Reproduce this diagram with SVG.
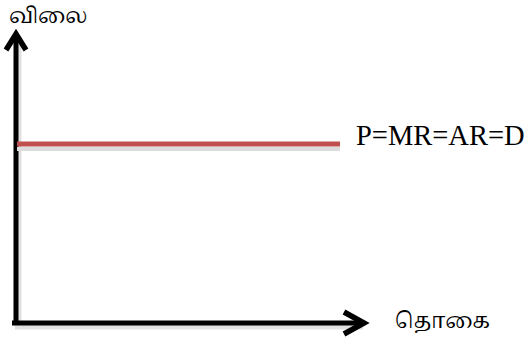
<svg xmlns="http://www.w3.org/2000/svg" width="529" height="342" viewBox="0 0 529 342">
  <style>
    .axis { stroke: #000; stroke-width: 5; fill: none; stroke-linecap: butt; }
    .head { stroke: #000; stroke-width: 5.5; fill: none; stroke-linejoin: miter; stroke-linecap: butt; }
    .shadow { stroke: #000; stroke-opacity: 0.12; fill: none; }
    .tamil { font-family: "Noto Serif Tamil", "Noto Sans Tamil", "Latha", "Lohit Tamil", serif; font-size: 21px; fill: #000; }
    .latin { font-family: "Liberation Serif", "Times New Roman", serif; font-size: 28.5px; fill: #000; }
  </style>
  <rect width="529" height="342" fill="#fff"/>

  <g id="connectors">
    <!-- soft shadows under the axes -->
    <path class="shadow" stroke-width="5" d="M19 36 V325 M15 327 H363"/>
    <!-- price axis -->
    <path class="axis" d="M16 324 V34"/>
    <path class="head" d="M6 50 L16 34 L26 50"/>
    <!-- quantity axis -->
    <path class="axis" d="M12 323 H363"/>
    <path class="head" d="M344 312 L364 323 L344 334"/>
  </g>

  <g id="demand-line">
    <line x1="17" y1="149" x2="340" y2="149" stroke="#dcdcdc" stroke-width="4"/>
    <line x1="17" y1="144" x2="340" y2="144" stroke="#c0504d" stroke-width="5"/>
  </g>

  <g id="label-price">
    <text class="tamil" x="9" y="23">விலை</text>
  </g>
  <g id="label-curve">
    <text class="latin" x="356" y="145">P=MR=AR=D</text>
  </g>
  <g id="label-quantity">
    <text class="tamil" x="395" y="328">தொகை</text>
  </g>
</svg>
